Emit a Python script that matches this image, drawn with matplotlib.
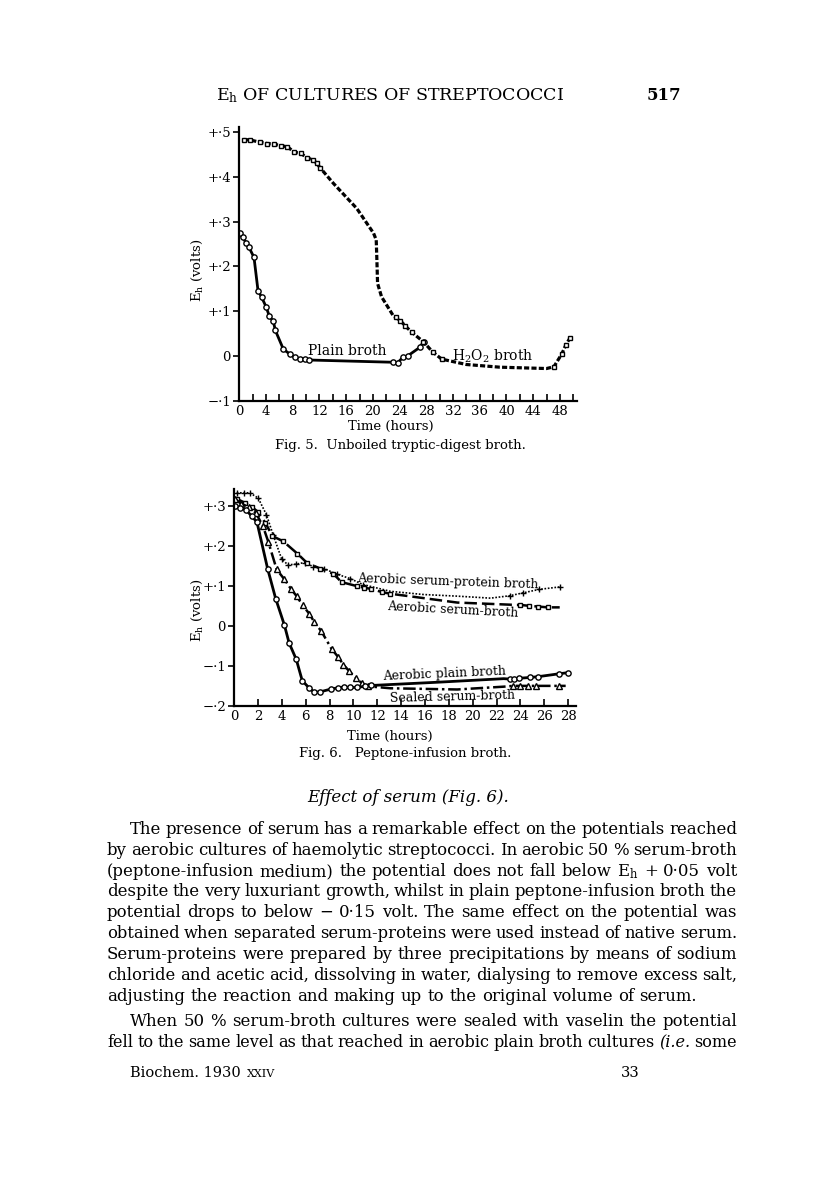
import matplotlib
matplotlib.use("Agg")
import matplotlib.pyplot as plt

plt.rcParams["font.family"] = "DejaVu Serif"
plt.rcParams["mathtext.fontset"] = "dejavuserif"

# ---- Fig. 5 data (time in hours, Eh in volts) ----
plain5_t = [0.1, 0.5, 1.0, 1.4, 2.2, 2.8, 3.35, 4.0, 4.5, 5.1, 5.4, 6.6, 7.6, 8.3,
            9.1, 9.8, 10.5, 23.0, 23.7, 24.5, 25.2, 27.0, 27.6]
plain5_e = [0.274, 0.265, 0.253, 0.244, 0.220, 0.146, 0.131, 0.110, 0.089, 0.077,
            0.057, 0.015, 0.004, -0.003, -0.006, -0.007, -0.009, -0.014, -0.015,
            -0.003, 0.0, 0.019, 0.032]

h2o2_t = [0.7, 1.6, 3.1, 4.2, 5.2, 6.2, 7.2, 8.2, 9.2, 10.2, 11.1, 11.6, 12.1,
          14.1, 17.6, 20.1, 20.5, 20.6, 20.7, 21.3, 23.0,
          23.4, 24.1, 24.8, 25.8, 27.55, 28.95, 30.3,
          34.0, 39.0, 46.0, 47.1, 48.26, 48.9, 49.5]
h2o2_e = [0.483, 0.482, 0.477, 0.474, 0.473, 0.469, 0.467, 0.455, 0.452, 0.442,
          0.437, 0.430, 0.420, 0.385, 0.329, 0.274, 0.259, 0.214, 0.162, 0.132,
          0.091, 0.086, 0.079, 0.068, 0.053, 0.032, 0.009, -0.007,
          -0.019, -0.025, -0.028, -0.024, 0.004, 0.025, 0.040]
h2o2_mark = [1] * 13 + [0] * 8 + [1] * 7 + [0] * 3 + [1] * 4

fig5_yticks = [-0.1, 0.0, 0.1, 0.2, 0.3, 0.4, 0.5]
fig5_ylabels = ["\u2212\u00b71", "0", "+\u00b71", "+\u00b72", "+\u00b73", "+\u00b74", "+\u00b75"]
fig5_xlabels = list(range(0, 49, 4))

# ---- Fig. 6 data ----
prot_t = [0.2, 0.8, 1.3, 2.0, 2.7, 3.27, 3.97, 4.5, 5.2, 5.9, 6.6, 7.5, 8.6, 9.7,
          10.8, 13.1, 15.9, 18.7, 21.5, 23.1, 24.2, 25.6, 27.3]
prot_e = [0.333, 0.333, 0.333, 0.320, 0.278, 0.227, 0.168, 0.153, 0.155, 0.159,
          0.149, 0.144, 0.130, 0.119, 0.104, 0.087, 0.079, 0.075, 0.070, 0.076,
          0.083, 0.092, 0.098]
prot_mark = [1] * 15 + [0] * 4 + [1] * 4

serum_t = [0.2, 0.9, 1.5, 2.0, 2.6, 3.2, 4.1, 5.3, 6.1, 7.2, 8.3, 9.0, 10.3, 10.9,
           11.5, 12.4, 13.1, 18.7, 23.7, 24.0, 24.7, 25.5, 26.3, 27.3]
serum_e = [0.318, 0.308, 0.297, 0.285, 0.258, 0.225, 0.212, 0.181, 0.158, 0.144,
           0.131, 0.110, 0.100, 0.096, 0.093, 0.085, 0.081, 0.059, 0.053, 0.053,
           0.051, 0.049, 0.047, 0.047]
serum_mark = [1] * 17 + [0] * 2 + [1] * 4 + [0]

plain6_t = [0.1, 0.5, 1.0, 1.45, 1.9, 2.8, 3.47, 4.2, 4.6, 5.2, 5.7, 6.27, 6.7, 7.2,
            8.1, 8.7, 9.2, 9.7, 10.27, 10.96, 11.5, 17.0, 22.6, 23.1, 23.5, 23.9,
            24.8, 25.5, 27.2, 28.0]
plain6_e = [0.300, 0.296, 0.290, 0.275, 0.260, 0.143, 0.069, 0.003, -0.042, -0.083,
            -0.136, -0.154, -0.165, -0.164, -0.157, -0.154, -0.152, -0.153, -0.153,
            -0.150, -0.148, -0.140, -0.131, -0.132, -0.133, -0.130, -0.128, -0.126,
            -0.119, -0.116]
plain6_mark = [1] * 21 + [0] * 2 + [1] * 7

sealed_t = [0.1, 0.6, 1.2, 1.8, 2.4, 2.85, 3.55, 4.2, 4.73, 5.23, 5.73, 6.29, 6.7,
            7.3, 8.17, 8.73, 9.15, 9.65, 10.2, 10.7, 11.2, 13.1, 18.7, 22.6, 23.4,
            24.0, 24.6, 25.3, 27.2, 27.8]
sealed_e = [0.317, 0.305, 0.298, 0.283, 0.250, 0.211, 0.142, 0.117, 0.094, 0.075,
            0.0525, 0.031, 0.011, -0.0125, -0.057, -0.0775, -0.096, -0.1125, -0.129,
            -0.142, -0.150, -0.155, -0.158, -0.151, -0.149, -0.149, -0.149, -0.149,
            -0.149, -0.149]
sealed_mark = [1] * 21 + [0] * 3 + [1] * 5 + [0]

fig6_yticks = [-0.2, -0.1, 0.0, 0.1, 0.2, 0.3]
fig6_ylabels = ["\u2212\u00b72", "\u2212\u00b71", "0", "+\u00b71", "+\u00b72", "+\u00b73"]
fig6_xlabels = list(range(0, 29, 2))

body_lines = [
    "The presence of serum has a remarkable effect on the potentials reached",
    "by aerobic cultures of haemolytic streptococci. In aerobic 50 % serum-broth",
    "(peptone-infusion medium) the potential does not fall below E$_\\mathrm{h}$ + 0\u00b705 volt",
    "despite the very luxuriant growth, whilst in plain peptone-infusion broth the",
    "potential drops to below \u2212 0\u00b715 volt. The same effect on the potential was",
    "obtained when separated serum-proteins were used instead of native serum.",
    "Serum-proteins were prepared by three precipitations by means of sodium",
    "chloride and acetic acid, dissolving in water, dialysing to remove excess salt,",
    "adjusting the reaction and making up to the original volume of serum.",
    "When 50 % serum-broth cultures were sealed with vaselin the potential",
    "fell to the same level as that reached in aerobic plain broth cultures *(i.e. some",
]

W, H = 816, 1195
fig = plt.figure(figsize=(W / 100, H / 100), dpi=100)
fig.patch.set_facecolor("white")


def marks(flags):
    return [i for i, f in enumerate(flags) if f]


def style_axes(ax):
    for s in ["top", "right"]:
        ax.spines[s].set_visible(False)
    ax.spines["left"].set_linewidth(1.6)
    ax.spines["bottom"].set_linewidth(1.6)
    ax.tick_params(axis="x", direction="in", length=5, width=1.2, pad=3, labelsize=9.5)
    ax.tick_params(axis="y", direction="out", length=4, width=1.2, pad=2, labelsize=9.5)
    ax.set_facecolor("none")


# ---- Fig. 5 ----
ax5 = fig.add_axes([239.3 / W, 1 - 400.8 / H, (576.6 - 239.3) / W, (400.8 - 126.7) / H])
style_axes(ax5)
ax5.plot(plain5_t, plain5_e, color="black", lw=2, marker="o", ms=3.8,
         mfc="white", mec="black", mew=1)
ax5.plot(h2o2_t, h2o2_e, color="black", lw=2.3, ls=(0, (1.6, 0.7)), marker="s", ms=3.4,
         mfc="white", mec="black", mew=1, markevery=marks(h2o2_mark))
ax5.set_xlim(0, 50.5)
ax5.set_ylim(-0.1, 0.5116)
ax5.set_xticks(fig5_xlabels)
ax5.set_xticklabels([str(v) for v in fig5_xlabels])
ax5.set_xticks(list(range(2, 51, 4)), minor=True)
ax5.tick_params(axis="x", which="minor", direction="in", length=5, width=1.2)
ax5.set_yticks(fig5_yticks)
ax5.set_yticklabels(fig5_ylabels)
ax5.text(16.1, 0.012, "Plain broth", fontsize=10, ha="center", va="center")
ax5.text(38.0, -0.001, "H$_2$O$_2$ broth", fontsize=10, ha="center", va="center")

fig.text(197 / W, 1 - 270 / H, "E$_\\mathrm{h}$ (volts)", rotation=90, fontsize=9.5,
         ha="center", va="center")
fig.text(391 / W, 1 - 426 / H, "Time (hours)", fontsize=9.5, ha="center", va="center")
fig.text(400 / W, 1 - 445 / H, "Fig. 5.  Unboiled tryptic-digest broth.", fontsize=9.5,
         ha="center", va="center")

# ---- Fig. 6 ----
ax6 = fig.add_axes([234.3 / W, 1 - 706.3 / H, (576.4 - 234.3) / W, (706.3 - 489) / H])
style_axes(ax6)
kw = dict(color="black", mfc="white", mec="black", mew=1)
ax6.plot(prot_t, prot_e, lw=1.2, ls=(0, (1, 1)), marker="+", ms=5,
         markevery=marks(prot_mark), **kw)
ax6.plot(serum_t, serum_e, lw=1.8, ls=(0, (5, 2)), marker="s", ms=3.4,
         markevery=marks(serum_mark), **kw)
ax6.plot(sealed_t, sealed_e, lw=1.8, ls=(0, (5, 1.5, 1, 1.5)), marker="^", ms=4,
         markevery=marks(sealed_mark), **kw)
ax6.plot(plain6_t, plain6_e, lw=2, ls="-", marker="o", ms=3.8,
         markevery=marks(plain6_mark), **kw)
ax6.set_xlim(0, 28.7)
ax6.set_ylim(-0.2, 0.3425)
ax6.set_xticks(fig6_xlabels)
ax6.set_xticklabels([str(v) for v in fig6_xlabels])
ax6.set_yticks(fig6_yticks)
ax6.set_yticklabels(fig6_ylabels)
ax6.text(17.9, 0.112, "Aerobic serum-protein broth", fontsize=9, ha="center",
         va="center", rotation=-2)
ax6.text(18.3, 0.040, "Aerobic serum-broth", fontsize=9, ha="center", va="center",
         rotation=-3)
ax6.text(17.6, -0.119, "Aerobic plain broth", fontsize=9, ha="center", va="center",
         rotation=2.5)
ax6.text(18.3, -0.177, "Sealed serum-broth", fontsize=9, ha="center", va="center",
         rotation=1.5)

fig.text(197 / W, 1 - 610 / H, "E$_\\mathrm{h}$ (volts)", rotation=90, fontsize=9.5,
         ha="center", va="center")
fig.text(390 / W, 1 - 736 / H, "Time (hours)", fontsize=9.5, ha="center", va="center")
fig.text(405 / W, 1 - 753 / H, "Fig. 6.   Peptone-infusion broth.", fontsize=9.5,
         ha="center", va="center")

# ---- page text ----
fig.text(390 / W, 1 - 96 / H, "E$_\\mathrm{h}$ OF CULTURES OF STREPTOCOCCI", fontsize=12.5,
         ha="center", va="center")
fig.text(664 / W, 1 - 96 / H, "517", fontsize=12, ha="center", va="center",
         fontweight="bold")
fig.text(408 / W, 1 - 797 / H, "Effect of serum (Fig. 6).", fontsize=12,
         style="italic", ha="center", va="center")

renderer = fig.canvas.get_renderer()
body_y = [829, 850, 871, 891, 912, 933, 954, 975, 996, 1021, 1042]
indent = {0: 130, 9: 130}
no_justify = {8}
for i, line in enumerate(body_lines):
    x0 = indent.get(i, 107)
    x1 = 737
    words = line.split(" ")
    texts = []
    for w in words:
        st = "normal"
        if w.startswith("*"):
            w = w[1:]
            st = "italic"
        t = fig.text(0, 1 - (body_y[i] + 5) / H, w, style=st, ha="left", va="baseline")
        texts.append(t)
    size = 11.9
    while True:
        for t in texts:
            t.set_fontsize(size)
        widths = [t.get_window_extent(renderer).width for t in texts]
        if i in no_justify:
            gap = size * 100 / 72 * 0.32
            break
        gap = (x1 - x0 - sum(widths)) / (len(words) - 1)
        if gap >= 4.2 or size < 10:
            break
        size -= 0.1
    x = x0
    for t, wd in zip(texts, widths):
        t.set_x(x / W)
        x += wd + gap

foot = fig.text(130 / W, 1 - 1073 / H, "Biochem. 1930 ", fontsize=10.5, ha="left",
                va="center")
fw = foot.get_window_extent(renderer).width
fig.text((130 + fw + 2) / W, 1 - 1074 / H, "XXIV", fontsize=8, ha="left", va="center")
fig.text(640 / W, 1 - 1073 / H, "33", fontsize=10.5, ha="right", va="center")

fig.savefig("out.png", dpi=100, facecolor="white")
